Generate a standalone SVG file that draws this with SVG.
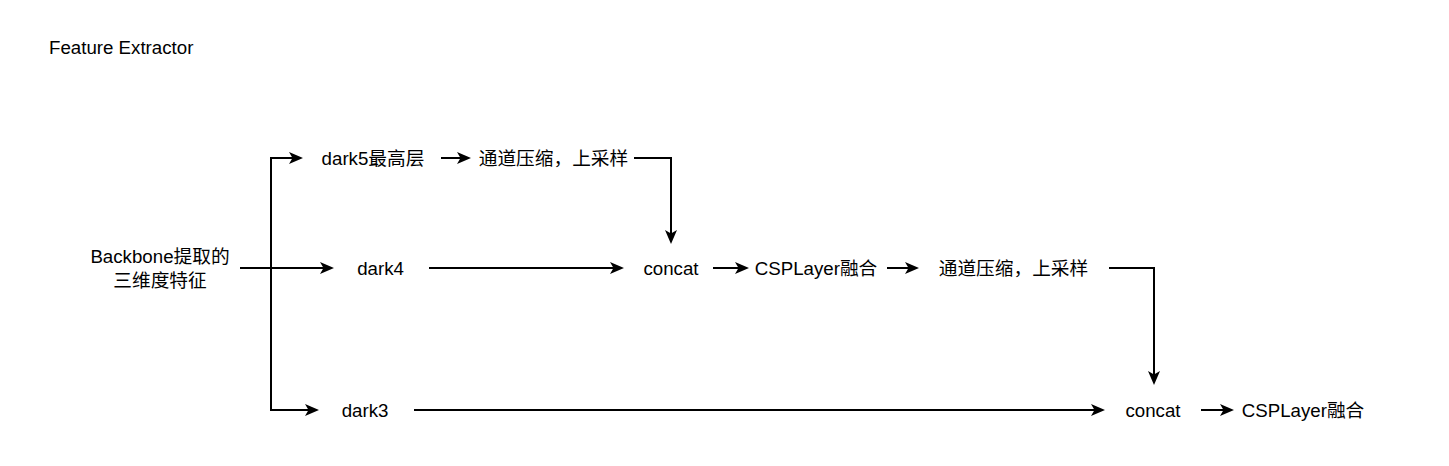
<svg xmlns="http://www.w3.org/2000/svg" width="1449" height="466" viewBox="0 0 1449 466">
<style>
text{font-family:"Liberation Sans","Noto Sans CJK SC",sans-serif;font-size:18.7px;fill:#000;text-anchor:middle}
.c{fill:none;stroke:#000;stroke-width:2;marker-end:url(#arr)}
</style>
<defs>
<marker id="arr" markerUnits="userSpaceOnUse" viewBox="0 0 14 13" markerWidth="14" markerHeight="13" refX="4" refY="6.5" orient="auto">
<path d="M14,6.5 L0,0.5 L3.5,6.5 L0,12.5 Z" fill="#000"/>
</marker>
</defs>
<rect width="1449" height="466" fill="#fff"/>
<g id="title"><text x="49" y="54" style="text-anchor:start">Feature Extractor</text></g>
<g id="connectors">
<path class="c" d="M240,268 H324"/>
<path class="c" d="M271,268 V158 H293"/>
<path class="c" d="M271,268 V410 H309"/>
<path class="c" d="M441,158 H461"/>
<path class="c" d="M634,158 H671 V234"/>
<path class="c" d="M429,268 H614"/>
<path class="c" d="M713,268 H739"/>
<path class="c" d="M887,268 H909"/>
<path class="c" d="M1109,268 H1154 V375"/>
<path class="c" d="M414,410 H1095"/>
<path class="c" d="M1201,410 H1224"/>
</g>
<g id="backbone"><text x="160" y="262.5">Backbone提取的</text><text x="160" y="286.5">三维度特征</text></g>
<g id="dark5"><text x="373" y="164.5">dark5最高层</text></g>
<g id="compress1"><text x="553.5" y="164.5">通道压缩，上采样</text></g>
<g id="dark4"><text x="380.5" y="274.5">dark4</text></g>
<g id="concat1"><text x="671" y="274.5">concat</text></g>
<g id="csp1"><text x="816" y="274.5">CSPLayer融合</text></g>
<g id="compress2"><text x="1013.5" y="274.5">通道压缩，上采样</text></g>
<g id="dark3"><text x="365" y="416.5">dark3</text></g>
<g id="concat2"><text x="1153" y="416.5">concat</text></g>
<g id="csp2"><text x="1303" y="416.5">CSPLayer融合</text></g>
</svg>
